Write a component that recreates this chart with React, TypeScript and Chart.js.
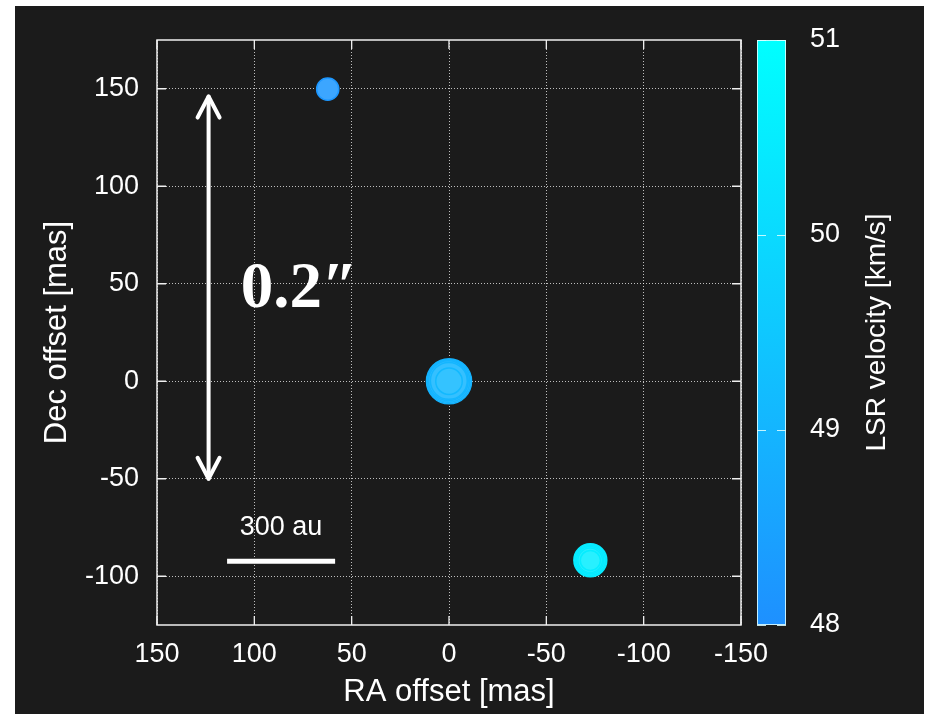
import React, { useEffect, useRef } from "react";
import { Chart, registerables } from "chart.js";

Chart.register(...registerables);

// ---- data ----
const raOffset = [62.3, 0.0, 0.2, 0.3, 0.1, 0.0, -72.6, -72.6, -72.5, -72.5, -72.6];
const decOffset = [149.8, 0.0, 0.1, 0.3, 0.2, 0.0, -91.8, -91.8, -91.7, -91.8, -91.9];
const lsrVelocity = [48.2, 48.95, 49.0, 48.98, 49.02, 49.1, 50.45, 50.42, 50.44, 50.46, 50.5];
const spotSize = [11.8, 23.3, 22.0, 20.6, 19.2, 14.0, 17.2, 15.8, 14.4, 13.0, 10.8];

const xTickValues = [150, 100, 50, 0, -50, -100, -150];
const yTickValues = [-100, -50, 0, 50, 100, 150];
const velocityTicks = [48, 49, 50, 51];
const velocityMin = 48;
const velocityMax = 51;

const xTitle = "RA offset [mas]";
const yTitle = "Dec offset [mas]";
const cbarTitle = "LSR velocity [km/s]";
const angularLabel = "0.2\u2033";
const scaleBarLabel = "300 au";

// annotation geometry in data units
const arrowX = 123.5;
const arrowTop = 146;
const arrowBottom = -50;
const angularLabelPos = { x: 107, y: 38 };
const scaleBar = { x1: 114, x2: 58.5, y: -92.3 };
const scaleBarLabelPos = { x: 86.3, y: -74.9 };

const FONT = '"Liberation Sans", Arial, Helvetica, sans-serif';
const LOW = [30, 144, 255];
const HIGH = [0, 255, 255];

function cmap(v: number): number[] {
  const t = Math.max(0, Math.min(1, (v - velocityMin) / (velocityMax - velocityMin)));
  return [0, 1, 2].map((i) => Math.round(LOW[i] + (HIGH[i] - LOW[i]) * t));
}
function rgb(c: number[]) {
  return `rgb(${c[0]},${c[1]},${c[2]})`;
}
function lighten(c: number[], f: number) {
  return c.map((x) => Math.round(x + (255 - x) * f));
}

const decorPlugin = {
  id: "decor",
  beforeDraw(chart: any) {
    const ctx = chart.ctx;
    ctx.save();
    ctx.fillStyle = "#ffffff";
    ctx.fillRect(0, 0, chart.width, chart.height);
    ctx.fillStyle = "#1b1b1b";
    ctx.fillRect(15, 6, 909, 708);
    ctx.restore();
  },
  afterDatasetsDraw(chart: any) {
    const ctx = chart.ctx;
    const { left, right, top, bottom } = chart.chartArea;
    const xs = chart.scales.x;
    const ys = chart.scales.y;
    ctx.save();
    // frame
    ctx.strokeStyle = "#f0f0f0";
    ctx.lineWidth = 1.5;
    ctx.strokeRect(left, top, right - left, bottom - top);
    // inward tick marks (mirrored)
    ctx.lineWidth = 1.3;
    const tl = 9;
    xTickValues.forEach((v) => {
      const px = xs.getPixelForValue(v);
      ctx.beginPath();
      ctx.moveTo(px, bottom);
      ctx.lineTo(px, bottom - tl);
      ctx.moveTo(px, top);
      ctx.lineTo(px, top + tl);
      ctx.stroke();
    });
    yTickValues.forEach((v) => {
      const py = ys.getPixelForValue(v);
      ctx.beginPath();
      ctx.moveTo(left, py);
      ctx.lineTo(left + tl, py);
      ctx.moveTo(right, py);
      ctx.lineTo(right - tl, py);
      ctx.stroke();
    });

    // double-headed arrow
    const ax = xs.getPixelForValue(arrowX);
    const at = ys.getPixelForValue(arrowTop);
    const ab = ys.getPixelForValue(arrowBottom);
    ctx.strokeStyle = "#ffffff";
    ctx.lineWidth = 4;
    ctx.lineCap = "round";
    ctx.lineJoin = "round";
    ctx.beginPath();
    ctx.moveTo(ax, at);
    ctx.lineTo(ax, ab);
    ctx.stroke();
    ctx.beginPath();
    ctx.moveTo(ax - 11, at + 21);
    ctx.lineTo(ax, at);
    ctx.lineTo(ax + 11, at + 21);
    ctx.stroke();
    ctx.beginPath();
    ctx.moveTo(ax - 11, ab - 21);
    ctx.lineTo(ax, ab);
    ctx.lineTo(ax + 11, ab - 21);
    ctx.stroke();

    // angular size label
    ctx.fillStyle = "#ffffff";
    ctx.font = 'bold 65px "Liberation Serif", "DejaVu Serif", serif';
    ctx.textAlign = "left";
    ctx.textBaseline = "alphabetic";
    ctx.fillText(angularLabel, xs.getPixelForValue(angularLabelPos.x), ys.getPixelForValue(angularLabelPos.y));

    // scale bar
    ctx.lineCap = "butt";
    ctx.lineWidth = 5;
    ctx.beginPath();
    const sy = ys.getPixelForValue(scaleBar.y);
    ctx.moveTo(xs.getPixelForValue(scaleBar.x1), sy);
    ctx.lineTo(xs.getPixelForValue(scaleBar.x2), sy);
    ctx.stroke();
    ctx.font = `27px ${FONT}`;
    ctx.textAlign = "center";
    ctx.textBaseline = "middle";
    ctx.fillText(scaleBarLabel, xs.getPixelForValue(scaleBarLabelPos.x), ys.getPixelForValue(scaleBarLabelPos.y));
    ctx.restore();
  },
  afterDraw(chart: any) {
    const ctx = chart.ctx;
    const { right } = chart.chartArea;
    const cs = chart.scales.cbar;
    const x0 = right + 16;
    const w = 29;
    const yLo = cs.getPixelForValue(velocityMin);
    const yHi = cs.getPixelForValue(velocityMax);
    ctx.save();
    const g = ctx.createLinearGradient(0, yLo, 0, yHi);
    g.addColorStop(0, rgb(cmap(velocityMin)));
    g.addColorStop(1, rgb(cmap(velocityMax)));
    ctx.fillStyle = g;
    ctx.fillRect(x0, yHi, w, yLo - yHi);
    ctx.strokeStyle = "rgba(225,255,255,0.85)";
    ctx.lineWidth = 1;
    ctx.strokeRect(x0 + 0.5, yHi + 0.5, w - 1, yLo - yHi - 1);
    velocityTicks.forEach((v) => {
      const py = Math.round(cs.getPixelForValue(v)) + 0.5;
      ctx.beginPath();
      ctx.moveTo(x0, py);
      ctx.lineTo(x0 + 9, py);
      ctx.moveTo(x0 + w, py);
      ctx.lineTo(x0 + w - 9, py);
      ctx.stroke();
    });
    // colorbar title, reading bottom-to-top
    ctx.fillStyle = "#ffffff";
    ctx.font = `28px ${FONT}`;
    ctx.textAlign = "center";
    ctx.textBaseline = "middle";
    ctx.translate(877, (yLo + yHi) / 2);
    ctx.rotate(-Math.PI / 2);
    ctx.fillText(cbarTitle, 0, 0);
    ctx.restore();
  },
};

export default function App() {
  const ref = useRef<HTMLCanvasElement | null>(null);
  useEffect(() => {
    if (!ref.current) return;
    const points = raOffset.map((x, i) => ({ x, y: decOffset[i] }));
    const gridColor = "rgba(255,255,255,0.72)";
    const chart = new Chart(ref.current, {
      type: "scatter",
      data: {
        datasets: [
          {
            data: points,
            pointRadius: (c: any) => spotSize[c.dataIndex] - 0.75,
            pointBackgroundColor: (c: any) => rgb(lighten(cmap(lsrVelocity[c.dataIndex]), 0.14)),
            pointBorderColor: (c: any) => rgb(cmap(lsrVelocity[c.dataIndex])),
            pointBorderWidth: 1.5,
          } as any,
        ],
      },
      options: {
        responsive: false,
        animation: false,
        events: [],
        layout: { padding: { top: 40, left: 0, right: 0, bottom: 0 } },
        plugins: { legend: { display: false }, tooltip: { enabled: false } },
        scales: {
          x: {
            type: "linear",
            min: -150,
            max: 150,
            reverse: true,
            afterBuildTicks: (s: any) => {
              s.ticks = xTickValues.map((v) => ({ value: v }));
            },
            afterFit: (s: any) => {
              s.height = 89;
            },
            grid: { color: gridColor, lineWidth: 1, drawTicks: false },
            border: { display: false, dash: [1, 2] },
            ticks: {
              color: "#ffffff",
              font: { family: FONT, size: 27 },
              padding: 13,
              maxRotation: 0,
              autoSkip: false,
              callback: (v: any) => String(v),
            },
            title: {
              display: true,
              text: xTitle,
              color: "#ffffff",
              font: { family: FONT, size: 31 },
              padding: { top: 0, bottom: 3 },
            },
          },
          y: {
            type: "linear",
            min: -125,
            max: 175,
            afterBuildTicks: (s: any) => {
              s.ticks = yTickValues.map((v) => ({ value: v }));
            },
            afterFit: (s: any) => {
              s.width = 157;
              s.paddingTop = 0;
              s.paddingBottom = 0;
            },
            grid: { color: gridColor, lineWidth: 1, drawTicks: false },
            border: { display: false, dash: [1, 2] },
            ticks: {
              color: "#ffffff",
              font: { family: FONT, size: 27 },
              padding: 18,
              autoSkip: false,
              callback: (v: any) => String(v),
            },
            title: {
              display: true,
              text: yTitle,
              color: "#ffffff",
              font: { family: FONT, size: 31 },
              padding: { top: 39, bottom: 0 },
            },
          },
          cbar: {
            type: "linear",
            position: "right",
            axis: "y",
            min: velocityMin,
            max: velocityMax,
            afterBuildTicks: (s: any) => {
              s.ticks = velocityTicks.map((v) => ({ value: v }));
            },
            afterFit: (s: any) => {
              s.width = 187;
              s.paddingTop = 0;
              s.paddingBottom = 0;
            },
            grid: { display: false, drawTicks: false },
            border: { display: false },
            ticks: {
              color: "#ffffff",
              font: { family: FONT, size: 27 },
              padding: 69,
              autoSkip: false,
              callback: (v: any) => String(v),
            },
          } as any,
        },
      },
      plugins: [decorPlugin],
    } as any);
    return () => chart.destroy();
  }, []);
  return (
    <div style={{ position: "absolute", left: 0, top: 0, width: 928, height: 714 }}>
      <canvas ref={ref} width={928} height={714} style={{ display: "block" }} />
    </div>
  );
}
